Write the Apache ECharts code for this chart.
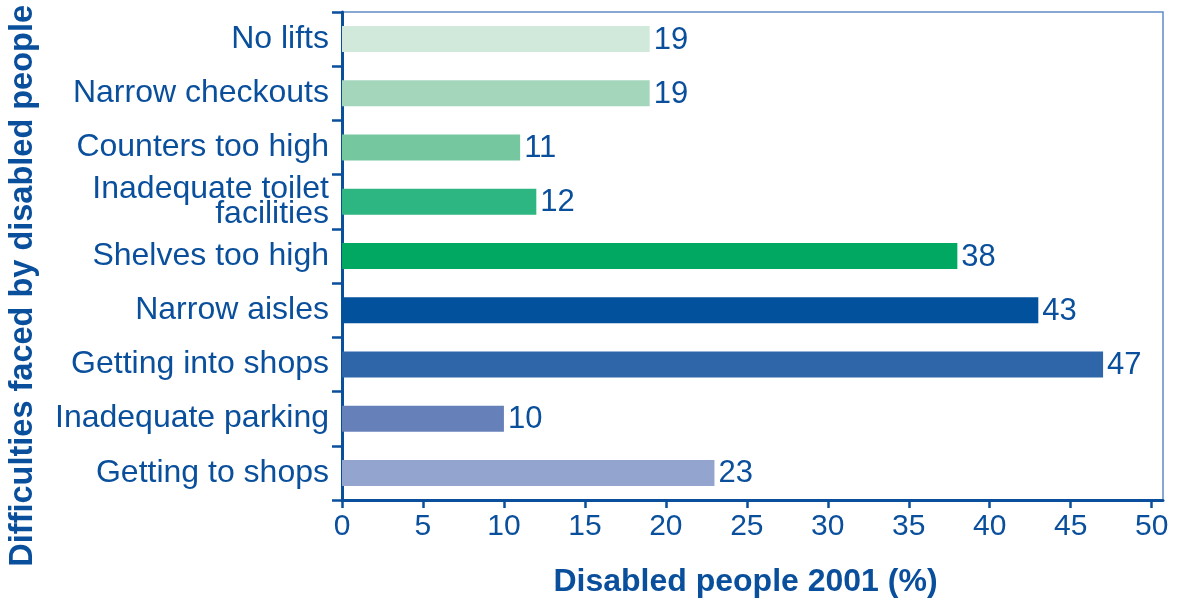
<!DOCTYPE html>
<html>
<head>
<meta charset="utf-8">
<title>Difficulties faced by disabled people</title>
<script src="https://cdn.jsdelivr.net/npm/echarts@6/dist/echarts.min.js"></script>
<style>
  html, body { margin: 0; padding: 0; background: #ffffff; }
  #chart { width: 1178px; height: 600px; }
</style>
</head>
<body>
<div id="chart"></div>
<script>
// Shopping difficulties reported by disabled people, 2001 (%)
const categories = [
  'No lifts',
  'Narrow checkouts',
  'Counters too high',
  'Inadequate toilet\nfacilities',
  'Shelves too high',
  'Narrow aisles',
  'Getting into shops',
  'Inadequate parking',
  'Getting to shops'
];
const percentages = [19, 19, 11, 12, 38, 43, 47, 10, 23];
const xTickValues = [0, 5, 10, 15, 20, 25, 30, 35, 40, 45, 50];

const barColors = [
  '#d0e9db', '#a4d6bc', '#74c79e', '#2db681', '#00a862',
  '#02519c', '#2e66a9', '#6681ba', '#93a4ce'
];
const ink = '#0a4f9c';
const fontFamily = '"Liberation Sans", Arial, Helvetica, sans-serif';

const chart = echarts.init(document.getElementById('chart'), null, { renderer: 'canvas' });

chart.setOption({
  animation: false,
  backgroundColor: '#ffffff',
  grid: {
    left: 342, right: 15, top: 12, bottom: 100,
    outerBoundsMode: 'none',
    containLabel: false,
    show: true,
    borderColor: '#5f8cc4',
    borderWidth: 1.5,
    backgroundColor: 'transparent'
  },
  xAxis: {
    type: 'value',
    min: 0,
    max: 50.7,
    interval: 5,
    splitLine: { show: false },
    axisLine: { show: true, lineStyle: { color: ink, width: 3 } },
    axisTick: { show: true, length: 8, lineStyle: { color: ink, width: 2.5 }, customValues: xTickValues },
    axisLabel: {
      customValues: xTickValues,
      color: ink, fontSize: 30, fontFamily: fontFamily, margin: 12
    },
    name: 'Disabled people 2001 (%)',
    nameLocation: 'middle',
    nameGap: 66,
    nameTextStyle: {
      color: ink, fontSize: 32, fontWeight: 'bold', fontFamily: fontFamily,
      padding: [0, 14, 0, 0]
    }
  },
  yAxis: {
    type: 'category',
    data: categories,
    inverse: true,
    axisLine: { show: true, lineStyle: { color: ink, width: 3 } },
    axisTick: { show: true, length: 10, lineStyle: { color: ink, width: 2.5 } },
    axisLabel: {
      color: ink, fontSize: 32, fontFamily: fontFamily, margin: 13,
      lineHeight: 25
    },
    splitLine: { show: false }
  },
  graphic: [{
    type: 'text',
    left: 7,
    top: 5,
    rotation: Math.PI / 2,
    style: {
      text: 'Difficulties faced by disabled people',
      fill: ink,
      font: 'bold 32.5px ' + fontFamily
    }
  }],
  series: [{
    type: 'bar',
    data: percentages.map((v, i) => ({ value: v, itemStyle: { color: barColors[i] } })),
    barWidth: 26,
    label: {
      show: true,
      position: 'right',
      distance: 4,
      color: ink,
      fontSize: 31,
      fontFamily: fontFamily,
      offset: [0, 1]
    }
  }]
});
</script>
</body>
</html>
